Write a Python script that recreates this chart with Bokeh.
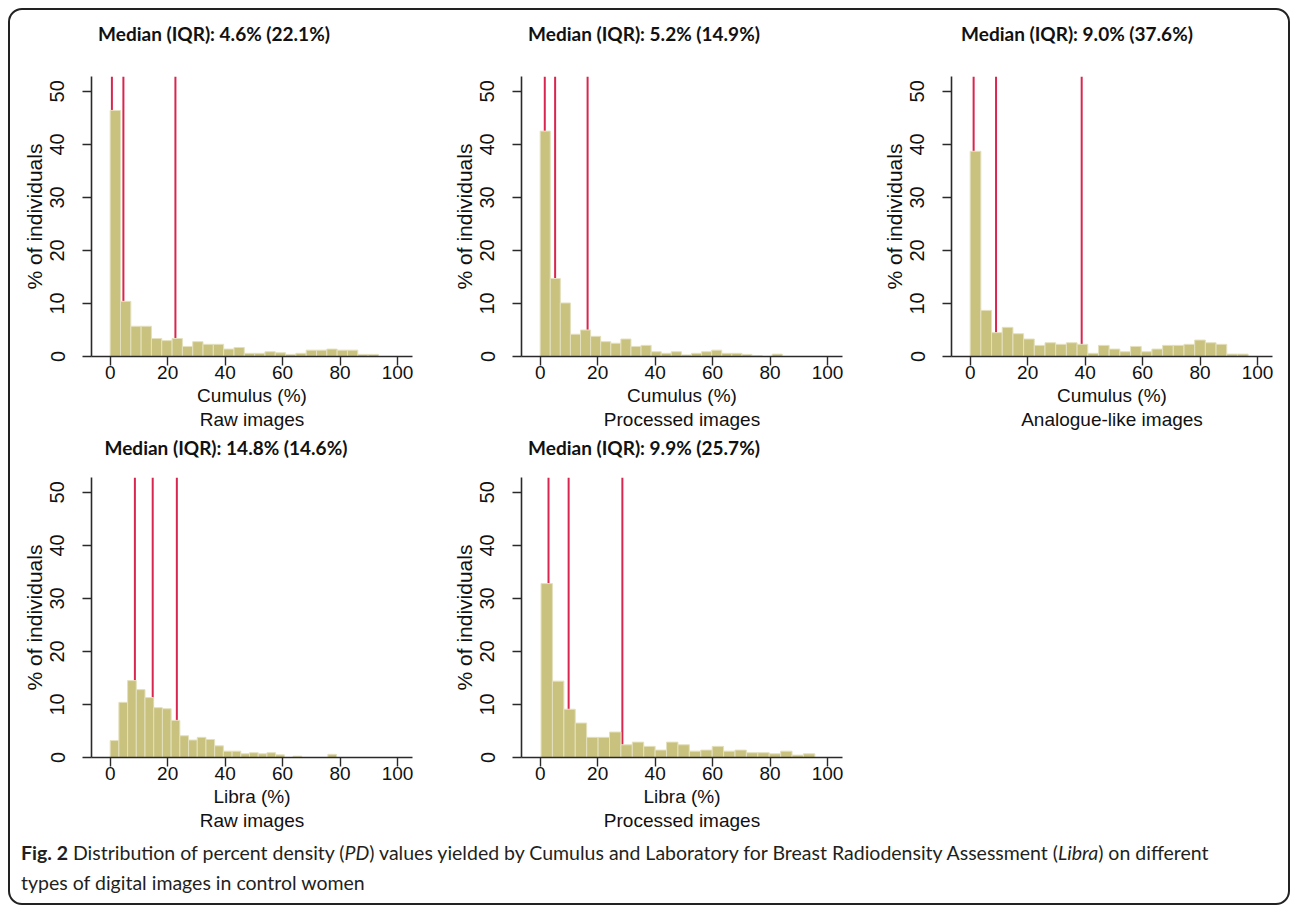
from bokeh.plotting import figure
from bokeh.models import Range1d, Title, Div, Spacer
from bokeh.layouts import row, column
from bokeh.embed import file_html
from bokeh.resources import INLINE

# ---------------- data ----------------
titles = ["Median (IQR): 4.6% (22.1%)", "Median (IQR): 5.2% (14.9%)",
          "Median (IQR): 9.0% (37.6%)", "Median (IQR): 14.8% (14.6%)",
          "Median (IQR): 9.9% (25.7%)"]
xlabels = ["Cumulus (%)", "Cumulus (%)", "Cumulus (%)", "Libra (%)", "Libra (%)"]
sublabels = ["Raw images", "Processed images", "Analogue-like images",
             "Raw images", "Processed images"]

# histogram bin start and bin width (percent density units)
bin_start = [0.0, 0.0, 0.0, 0.0, 0.3]
bin_width = [3.59, 3.51, 3.72, 3.03, 3.97]

cumulus_raw = [46.4, 10.4, 5.7, 5.7, 3.4, 3.0, 3.4, 1.9, 2.8, 2.3, 2.3, 1.4, 1.7,
               0.6, 0.6, 0.9, 0.7, 0.4, 0.6, 1.2, 1.2, 1.4, 1.2, 1.2, 0.4, 0.4]
cumulus_processed = [42.5, 14.7, 10.1, 4.2, 5.0, 3.8, 2.8, 2.5, 3.3, 1.9, 2.1, 0.9,
                     0.6, 0.9, 0.3, 0.6, 0.9, 1.2, 0.6, 0.6, 0.4, 0.2, 0.0, 0.45]
cumulus_analogue = [38.7, 8.7, 4.5, 5.5, 4.3, 3.3, 2.1, 2.6, 2.3, 2.6, 2.3, 0.6, 2.1,
                    1.4, 0.9, 1.9, 0.9, 1.4, 2.1, 2.1, 2.3, 3.1, 2.6, 2.3, 0.45, 0.45]
libra_raw = [3.2, 10.4, 14.5, 12.8, 11.3, 9.4, 9.2, 7.0, 4.1, 3.3, 3.8, 3.4, 2.2,
             1.2, 1.2, 0.7, 0.9, 0.7, 0.9, 0.5, 0.0, 0.25, 0.0, 0.0, 0.0, 0.6]
libra_processed = [32.8, 14.4, 9.1, 6.5, 3.8, 3.8, 4.8, 2.4, 2.9, 2.1, 1.4, 2.9,
                   2.4, 1.2, 1.4, 2.1, 1.2, 1.4, 0.9, 0.9, 0.7, 1.2, 0.45, 0.7]
series = [cumulus_raw, cumulus_processed, cumulus_analogue, libra_raw, libra_processed]

# quartile lines: Q1, median, Q3
quartiles = [[0.6, 4.6, 22.7], [1.6, 5.2, 16.5], [1.2, 9.0, 38.8],
             [8.6, 14.8, 23.2], [2.9, 9.9, 28.6]]

x_ticks = [0, 20, 40, 60, 80, 100]
y_ticks = [0, 10, 20, 30, 40, 50]
y_label = "% of individuals"

caption_html = ('<b>Fig. 2</b> Distribution of percent density (<i>PD</i>) values yielded by '
                'Cumulus and Laboratory for Breast Radiodensity Assessment (<i>Libra</i>) on '
                'different<br>types of digital images in control women')

# ---------------- styling ----------------
BAR = "#C9C27F"
BAR_EDGE = "#E4E0BE"
RED = "#D9264F"
AX = "#2a2a2a"
FONT = "Liberation Sans"
TFONT = "Lato"
X0, X1, Y0, Y1 = -6.5, 105.2, 0, 52.8

def panel(i, w, h, mbl, mbr, mbt, mbb):
    p = figure(width=w, height=h, x_range=Range1d(X0, X1), y_range=Range1d(Y0, Y1),
               output_backend="svg", toolbar_location=None, title_location=None,
               min_border_left=mbl, min_border_right=mbr,
               min_border_top=mbt, min_border_bottom=mbb)
    p.background_fill_color = "white"
    p.border_fill_color = "white"
    p.outline_line_color = None
    p.grid.visible = False

    hs = series[i]
    lefts = [bin_start[i] + k * bin_width[i] for k in range(len(hs))]
    rights = [l + bin_width[i] for l in lefts]
    q = quartiles[i]
    p.segment(x0=q, y0=[Y0] * len(q), x1=q, y1=[Y1] * len(q), line_color=RED, line_width=2)
    p.quad(left=lefts, right=rights, bottom=[0] * len(hs), top=hs,
           fill_color=BAR, line_color=BAR_EDGE, line_width=1)

    for ax in (p.xaxis[0], p.yaxis[0]):
        ax.axis_line_color = AX
        ax.axis_line_width = 1.6
        ax.major_tick_line_color = AX
        ax.major_tick_line_width = 1.4
        ax.major_tick_out = 9
        ax.major_tick_in = 0
        ax.minor_tick_line_color = None
        ax.major_label_text_font = FONT
        ax.major_label_text_color = "#111111"
        ax.axis_label_text_font = FONT
        ax.axis_label_text_font_style = "normal"
        ax.axis_label_text_color = "#111111"

    p.xaxis.ticker = x_ticks
    p.xaxis.major_label_text_font_size = "19px"
    p.xaxis.major_label_standoff = 0
    p.xaxis.axis_label = xlabels[i]
    p.xaxis.axis_label_text_font_size = "19px"
    p.xaxis.axis_label_standoff = 3

    p.yaxis.ticker = y_ticks
    p.yaxis.major_label_orientation = "vertical"
    p.yaxis.major_label_text_font_size = "20px"
    p.yaxis.major_label_standoff = 18
    p.yaxis.axis_label = y_label
    p.yaxis.axis_label_text_font_size = "21px"
    p.yaxis.axis_label_standoff = 2

    sub = Title(text=sublabels[i], align="center", text_font=FONT, text_font_size="19px",
                text_font_style="normal", text_color="#111111", standoff=-4)
    p.add_layout(sub, "below")
    return p

def heading_div(texts, centers, height, line_h, top):
    spans = "".join(
        '<span style="position:absolute;left:%dpx;top:%dpx;transform:translateX(-50%%);'
        'white-space:nowrap">%s</span>' % (c, top, t) for t, c in zip(texts, centers))
    html = ('<div style="position:relative;width:1278px;height:%dpx;font-family:Lato, sans-serif;'
            'font-weight:bold;font-size:19px;line-height:%dpx;color:#111">%s</div>'
            % (height, line_h, spans))
    return Div(text=html, width=1278, height=height, margin=(0, 0, 0, 0))

# headings
h1 = heading_div(titles[0:3], [204, 634, 1067], 46, 24, 12)
h2 = heading_div(titles[3:5], [216, 634], 30, 20, 5)

p1 = panel(0, 430, 377, 81, 28, 20, 77)
p2 = panel(1, 430, 377, 81, 28, 20, 77)
p3 = panel(2, 418, 377, 81, 16, 20, 77)
p4 = panel(3, 430, 371, 81, 28, 14, 77)
p5 = panel(4, 430, 371, 81, 28, 14, 77)

cap = Div(text='<div style="font-family:Lato, sans-serif;font-size:19.5px;line-height:30px;'
               'margin:4px 0 0 11px;color:#231f20;white-space:nowrap">' + caption_html + '</div>',
          width=1278, height=69, margin=(0, 0, 0, 0))

framed = column(h1, row(p1, p2, p3), h2, row(p4, p5, Spacer(width=418, height=371)), cap,
                styles={"border": "2px solid #222", "border-radius": "14px",
                        "background-color": "white"})
layout = column(Spacer(height=8), row(Spacer(width=8), framed))

open("out.html", "w").write(file_html(layout, INLINE))
